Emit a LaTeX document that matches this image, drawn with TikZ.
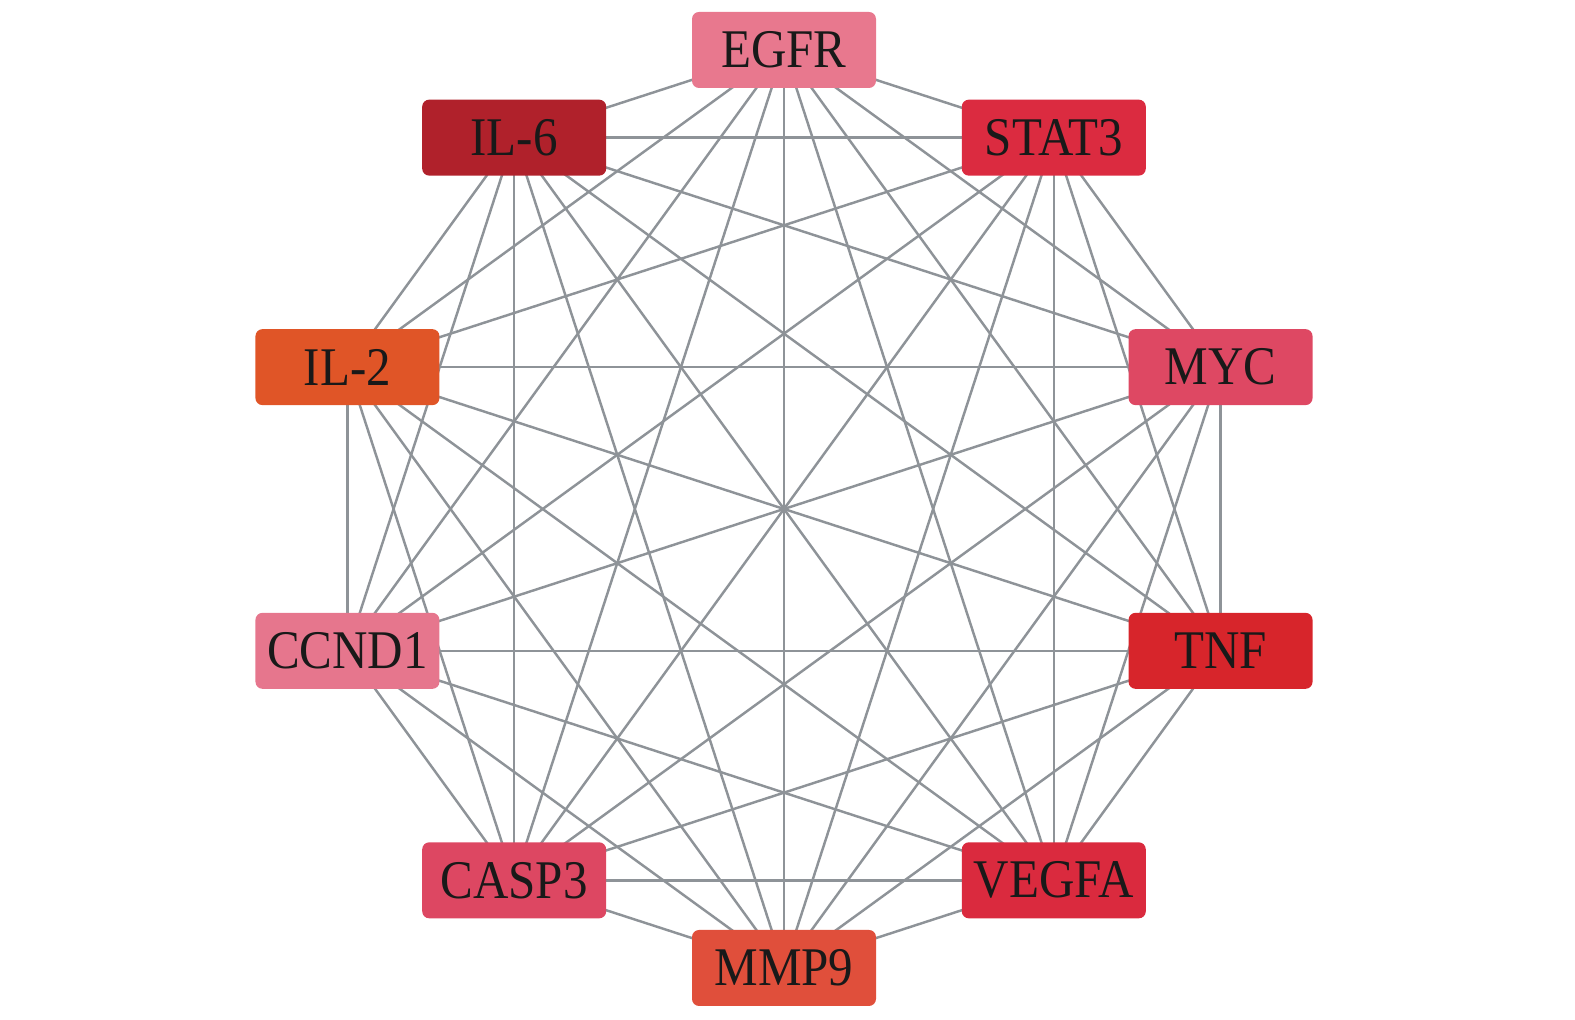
\documentclass[tikz,border=0pt]{standalone}
\usepackage{fontspec}
\setmainfont[FakeStretch=0.9]{Liberation Serif}
\usetikzlibrary{backgrounds}
\definecolor{cEGFR}{HTML}{E8788E}
\definecolor{cSTAT}{HTML}{DB2B40}
\definecolor{cMYC}{HTML}{DE4863}
\definecolor{cTNF}{HTML}{D7252B}
\definecolor{cVEGFA}{HTML}{DA2A3E}
\definecolor{cMMP}{HTML}{E04F3B}
\definecolor{cCASP}{HTML}{DD4762}
\definecolor{cCCND}{HTML}{E6768D}
\definecolor{cILtwo}{HTML}{E05527}
\definecolor{cILsix}{HTML}{B0212B}
\definecolor{linkgray}{HTML}{8E9398}

\begin{document}
\begin{tikzpicture}[
  gene/.style={rounded corners=2pt, minimum width=1.84cm, minimum height=0.76cm,
    inner sep=0pt, font=\fontsize{15.5}{18}\selectfont, text=black!90},
  link/.style={draw=linkgray, line width=0.7pt}]

  \useasboundingbox (0,0) rectangle (15.75,-10.2);
  \coordinate (O) at (7.84,-5.09);

  \foreach \n/\t/\a/\c in {EGFR/EGFR/90/cEGFR, STAT3/STAT3/54/cSTAT, MYC/MYC/18/cMYC,
      TNF/TNF/-18/cTNF, VEGFA/VEGFA/-54/cVEGFA, MMP9/MMP9/-90/cMMP,
      CASP3/CASP3/-126/cCASP, CCND1/CCND1/-162/cCCND, IL2/IL-2/162/cILtwo,
      IL6/IL-6/126/cILsix}
    \node[gene, fill=\c] (\n) at ([shift={(\a:4.59)}]O) {\t};

  \begin{scope}[on background layer]
    \foreach \u [count=\i] in {EGFR,STAT3,MYC,TNF,VEGFA,MMP9,CASP3,CCND1,IL2,IL6}
      \foreach \v [count=\j] in {EGFR,STAT3,MYC,TNF,VEGFA,MMP9,CASP3,CCND1,IL2,IL6}
        {\ifnum\j>\i \draw[link] (\u.center) -- (\v.center); \fi}
  \end{scope}
\end{tikzpicture}
\end{document}
